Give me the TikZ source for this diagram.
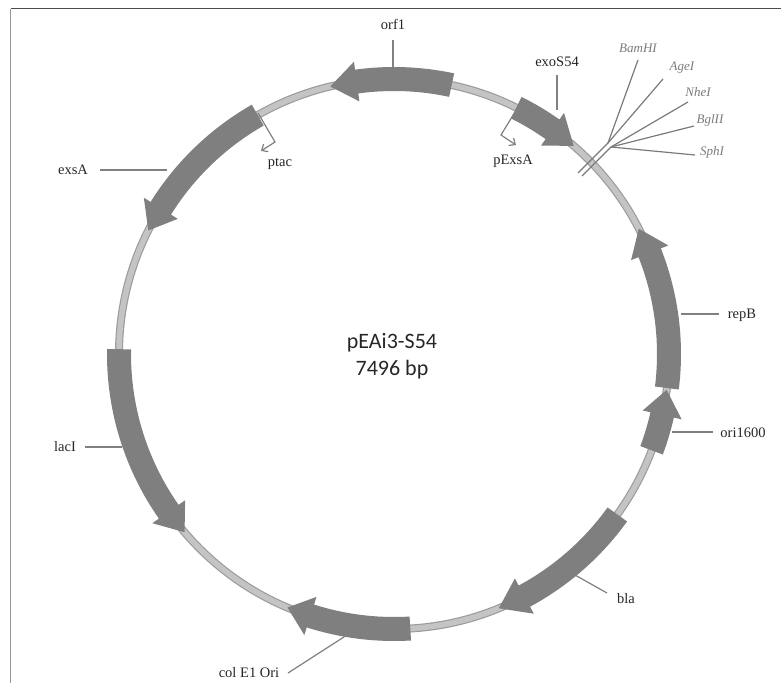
\documentclass[tikz,border=0pt]{standalone}
\usepackage{fontspec}
\setmainfont{Liberation Serif}
\newfontfamily\carlitofont{Carlito}
\usetikzlibrary{arrows.meta}
\definecolor{genegray}{HTML}{7F7F7F}
\definecolor{ringfill}{HTML}{C4C4C4}
\definecolor{ringedge}{HTML}{9C9C9C}
\definecolor{leadgray}{HTML}{808080}
\definecolor{labtext}{HTML}{262626}
\definecolor{sitegray}{HTML}{7A7A7A}
\newcommand{\genearrow}[3]{%
  \fill[genegray] (#1:287pt) arc[start angle=#1, end angle=#2, radius=287pt]
    -- (#2:295pt) -- (#3:275pt) -- (#2:255pt) -- (#2:263pt)
    arc[start angle=#2, end angle=#1, radius=263pt] -- cycle;}
\tikzset{
  leader/.style={draw=leadgray, line width=1.2pt},
  genelabel/.style={font=\fontsize{14.5}{16}\selectfont, text=labtext, inner sep=0pt},
  sitelabel/.style={font=\fontsize{13}{15}\selectfont\itshape, text=sitegray, inner sep=0pt},
  siteline/.style={draw=sitegray, line width=1.2pt},
  promoter/.style={draw=genegray, line width=1.2pt, -{Straight Barb[length=5pt,width=9pt]}},
}
\begin{document}
\begin{tikzpicture}[x=1pt,y=1pt]
\useasboundingbox (-394,-329) rectangle (387,354);
% frame lines
\draw[draw=black!70, line width=1pt] (-383,345) -- (387,345);
\draw[draw=black!40, line width=1pt] (-383,345) -- (-383,-329);
% ring
\draw[ringedge, line width=8pt] (0,0) circle[radius=275pt];
\draw[ringfill, line width=5.6pt] (0,0) circle[radius=275pt];
% genes
\genearrow{77.9}{97.8}{103.4}   % orf1
\genearrow{119.7}{148}{153.3}   % exsA
\genearrow{63.6}{54.8}{49.2}    % exoS54
\genearrow{-7.1}{21.6}{27.1}    % repB
\genearrow{-20.5}{-12.8}{-7.5}  % ori1600
\genearrow{-35.7}{-61.7}{-67.6} % bla
\genearrow{-86.6}{-107.7}{-112.8} % col E1 Ori
\genearrow{179}{215}{220.4}     % lacI
% center text
\node (pname) at (-2,11) {\carlitofont\fontsize{22}{26}\selectfont\color{black!85} pEAi3-S54};
\node (psize) at (-2,-16) {\carlitofont\fontsize{22}{26}\selectfont\color{black!85} 7496 bp};
% orf1
\coordinate (orf1a) at (-1,287);
\coordinate (orf1b) at (-1,314);
\draw[leader] (orf1a) -- (orf1b);
\node[genelabel] (orf1) at (-1,330) {orf1};
% exsA
\coordinate (exsAa) at (-227,184);
\coordinate (exsAb) at (-294,184);
\draw[leader] (exsAa) -- (exsAb);
\node[genelabel] (exsA) at (-321,184) {exsA};
% ptac
\coordinate (ptaca) at (-136,241);
\coordinate (ptacb) at (-119,212);
\coordinate (ptacc) at (-133,203);
\draw[promoter] (ptaca) -- (ptacb) -- (ptacc);
\node[genelabel] (ptac) at (-114,190) {ptac};
% exoS54
\coordinate (exoa) at (163,244);
\coordinate (exob) at (163,279);
\draw[leader] (exoa) -- (exob);
\node[genelabel] (exoS) at (163,292) {exoS54};
% pExsA
\coordinate (pexa) at (121,242);
\coordinate (pexb) at (107,219);
\coordinate (pexc) at (122,209);
\draw[promoter] (pexa) -- (pexb) -- (pexc);
\node[genelabel] (pExsA) at (119,193) {pExsA};
% restriction sites
\coordinate (tkAa) at (184,181);
\coordinate (tkAb) at (214,211);
\coordinate (tkBa) at (188,178);
\coordinate (tkBb) at (217,207);
\draw[siteline] (tkAa) -- (tkAb);
\draw[siteline] (tkBa) -- (tkBb);
\coordinate (bamE) at (244,294);
\coordinate (ageE) at (269,275);
\coordinate (nheE) at (294,252);
\coordinate (bglE) at (300,228);
\coordinate (sphE) at (301,199);
\draw[siteline] (tkAb) -- (bamE);
\draw[siteline] (tkAb) -- (ageE);
\draw[siteline] (tkBb) -- (nheE);
\draw[siteline] (tkBb) -- (bglE);
\draw[siteline] (tkBb) -- (sphE);
\node[sitelabel] (bam) at (244,306) {BamHI};
\node[sitelabel] (age) at (288,286) {AgeI};
\node[sitelabel] (nhe) at (304,262) {NheI};
\node[sitelabel] (bgl) at (316,234) {BglII};
\node[sitelabel] (sph) at (318,202) {SphI};
% repB
\coordinate (repa) at (287,40);
\coordinate (repb) at (325,40);
\draw[leader] (repa) -- (repb);
\node[genelabel] (repB) at (348,39) {repB};
% ori1600
\coordinate (oria) at (278,-78);
\coordinate (orib) at (319,-78);
\draw[leader] (oria) -- (orib);
\node[genelabel] (ori) at (349,-79) {ori1600};
% bla
\coordinate (blaa) at (181,-221);
\coordinate (blab) at (213,-239);
\draw[leader] (blaa) -- (blab);
\node[genelabel] (bla) at (232,-245) {bla};
% col E1 Ori
\coordinate (cola) at (-47,-281);
\coordinate (colb) at (-106,-319);
\draw[leader] (cola) -- (colb);
\node[genelabel] (col) at (-145,-319) {col E1 Ori};
% lacI
\coordinate (laca) at (-272,-93);
\coordinate (lacb) at (-309,-93);
\draw[leader] (laca) -- (lacb);
\node[genelabel] (lacI) at (-329,-93) {lacI};
\end{tikzpicture}
\end{document}
